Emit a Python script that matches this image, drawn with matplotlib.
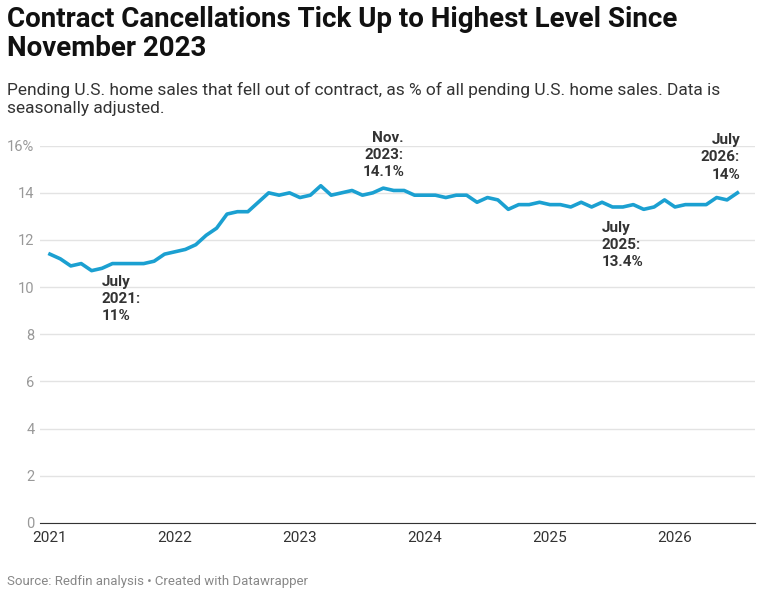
import numpy as np
import matplotlib
matplotlib.use("Agg")
import matplotlib.pyplot as plt

plt.rcParams["font.family"] = ["Roboto", "DejaVu Sans"]

START_YEAR = 2021
RATE = [11.4, 11.2, 10.9, 11.0, 10.7, 10.8, 11.0, 11.0, 11.0, 11.0, 11.1, 11.4,
        11.5, 11.6, 11.8, 12.2, 12.5, 13.1, 13.2, 13.2, 13.6, 14.0, 13.9, 14.0,
        13.8, 13.9, 14.3, 13.9, 14.0, 14.1, 13.9, 14.0, 14.2, 14.1, 14.1, 13.9,
        13.9, 13.9, 13.8, 13.9, 13.9, 13.6, 13.8, 13.7, 13.3, 13.5, 13.5, 13.6,
        13.5, 13.5, 13.4, 13.6, 13.4, 13.6, 13.4, 13.4, 13.5, 13.3, 13.4, 13.7,
        13.4, 13.5, 13.5, 13.5, 13.8, 13.7, 14.0]
YTICKS = [0, 2, 4, 6, 8, 10, 12, 14, 16]
XTICKS = [2021, 2022, 2023, 2024, 2025, 2026]
NOTES = [(2021 + 6 / 12, 11.0, "July\n2021:\n11%", "top", "left", -8, -8),
         (2023 + 10 / 12, 14.1, "Nov.\n2023:\n14.1%", "bottom", "right", 0, 8),
         (2025 + 6 / 12, 13.4, "July\n2025:\n13.4%", "top", "left", -8, -10),
         (2026 + 6 / 12, 14.0, "July\n2026:\n14%", "bottom", "right", 2, 8)]

x = START_YEAR + np.arange(len(RATE)) / 12

fig = plt.figure(figsize=(7.68, 5.97), dpi=100)
ax = fig.add_axes([0.052, 0.124, 0.931, 0.632])
ax.plot(x, RATE, color="#1ba0d1", lw=2.6, solid_joinstyle="round")
ax.set_ylim(0, 16)
ax.set_xlim(2020.92, 2026.64)
ax.set_yticks(YTICKS)
ax.set_yticklabels([f"{v}%" if v == 16 else str(v) for v in YTICKS])
ax.set_xticks(XTICKS)
ax.set_xticklabels([str(v) for v in XTICKS])
ax.grid(True, axis="y", color="#e3e3e3", lw=1)
ax.set_axisbelow(True)
for s in ["top", "right", "left"]:
    ax.spines[s].set_visible(False)
ax.spines["bottom"].set_color("#333333")
ax.tick_params(axis="y", length=0, labelsize=10.5, labelcolor="#999999", pad=4)
ax.tick_params(axis="x", length=0, labelsize=11, labelcolor="#333333", pad=6)

for xv, yv, txt, va, ha, dx, dy in NOTES:
    ax.annotate(txt, (xv, yv), xytext=(dx, dy), textcoords="offset points",
                ha=ha, va=va, fontsize=11, fontweight="bold", color="#333333",
                linespacing=1.3, multialignment="right" if ha == "right" else "left")

fig.text(0.009, 0.99, "Contract Cancellations Tick Up to Highest Level Since\nNovember 2023",
         fontsize=20, fontweight="bold", va="top", ha="left", color="#111111",
         linespacing=1.1)
fig.text(0.009, 0.862, "Pending U.S. home sales that fell out of contract, as % of all pending U.S. home sales. Data is\nseasonally adjusted.",
         fontsize=12.5, va="top", ha="left", color="#333333", linespacing=1.25)
fig.text(0.009, 0.015, "Source: Redfin analysis \u2022 Created with Datawrapper",
         fontsize=9.5, va="bottom", ha="left", color="#888888")

fig.savefig("out.png", dpi=100)
